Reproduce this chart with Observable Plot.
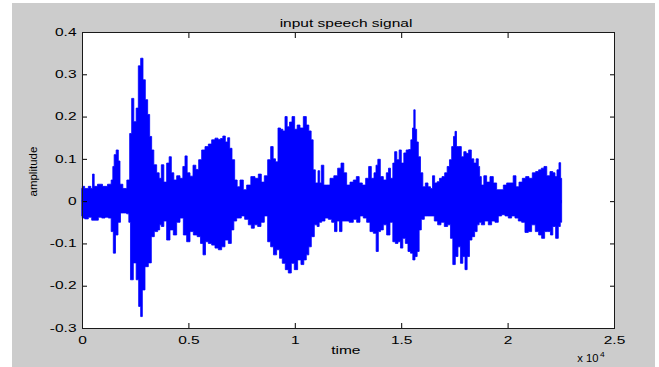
<!DOCTYPE html>
<html>
<head>
<meta charset="utf-8">
<script src="https://cdn.jsdelivr.net/npm/d3@7"></script>
<script src="https://cdn.jsdelivr.net/npm/@observablehq/plot@0.6"></script>
<style>
  html, body { margin: 0; padding: 0; background: #ffffff; }
  #bg { position: absolute; left: 12px; top: 3px; width: 643px; height: 364px; background: #cccccc; }
  #chart { position: absolute; left: 0; top: 0; }
  #chart svg { background: transparent !important; }
</style>
</head>
<body>
<div id="bg"></div>
<div id="chart"></div>
<script>
// ---- Data ----
// upper envelope of the speech waveform: sample index and amplitude
const upperTime = [0,30,220,376,455,533,611,846,1081,1316,1425,1472,1551,1660,1754,1817,2021,2193,2287,2381,2490,2600,2694,2819,2913,3038,3132,3226,3320,3430,3587,
  3665,3791,3900,4056,4135,4260,4370,4527,4684,4793,4887,4997,5154,5278,5419,5545,5701,5858,6015,6171,6328,6453,6563,6673,6798,6892,6986,7111,7237,7346,
  7503,7659,7816,8051,8208,8364,8490,8646,8803,8928,9038,9148,9273,9383,9492,9586,9696,9806,9931,10056,10166,10322,10479,10604,10714,10823,10902,11028,11153,
  11184,11309,11419,11575,11732,11936,12092,12249,12358,12515,12672,12828,12954,13095,13251,13408,13533,13659,13784,13847,13956,14082,14238,14364,14442,14552,14661,14724,14865,
  14943,15068,15178,15287,15413,15492,15569,15616,15695,15757,15851,15962,16071,16197,16321,16432,16509,16634,16743,16855,16980,17106,17213,17325,17420,17495,17560,17636,17762,17888,17998,18106,18232,18358,18467,18576,18669,
  18702,18828,18937,19092,19250,19407,19562,19722,19877,20033,20192,20332,20455,20614,20770,20926,21083,21239,21396,21521,21648,21770,21912,22070,22179,22273,22367,22461,22523,22540];
const upperAmp = [0.03,0.035,0.03,0.035,0.03,0.064,0.035,0.04,0.035,0.04,0.05,0.082,0.11,0.121,0.095,0.04,0.03,0.05,0.16,0.243,0.188,0.22,0.32,0.338,0.287,0.24,0.205,0.153,0.121,0.086,0.067,
  0.054,0.086,0.045,0.09,0.105,0.067,0.05,0.06,0.054,0.082,0.107,0.067,0.059,0.085,0.075,0.098,0.121,0.129,0.135,0.145,0.149,0.146,0.148,0.154,0.14,0.15,0.125,0.098,0.05,0.034,
  0.05,0.027,0.038,0.058,0.054,0.064,0.045,0.06,0.098,0.129,0.1,0.093,0.173,0.17,0.166,0.2,0.176,0.187,0.2,0.17,0.18,0.173,0.2,0.18,0.166,0.145,0.074,0.043,0.072,
  0.043,0.085,0.038,0.038,0.054,0.06,0.078,0.09,0.067,0.038,0.045,0.05,0.058,0.043,0.038,0.054,0.082,0.054,0.067,0.085,0.099,0.058,0.05,0.067,0.078,0.054,0.09,0.117,0.098,
  0.121,0.09,0.114,0.121,0.122,0.145,0.173,0.216,0.17,0.14,0.105,0.067,0.034,0.043,0.034,0.03,0.06,0.043,0.046,0.054,0.058,0.067,0.082,0.098,0.129,0.153,0.165,0.129,0.129,0.105,0.117,0.113,0.121,0.1,0.09,0.1,0.082,
  0.058,0.038,0.06,0.045,0.058,0.043,0.027,0.027,0.038,0.043,0.043,0.06,0.034,0.045,0.054,0.058,0.054,0.067,0.07,0.074,0.078,0.082,0.06,0.07,0.067,0.058,0.074,0.091,0.054,0.054];

// lower envelope of the speech waveform: sample index and amplitude
const lowerTime = [0,30,220,376,533,689,846,1003,1159,1316,1425,1519,1629,1754,1864,2021,2177,2224,2334,2490,2600,2725,2788,2882,3038,3195,3320,3477,3634,
  3665,3791,3900,4056,4213,4370,4527,4684,4840,4997,5154,5310,5514,5623,5748,5858,6015,6171,6328,6485,6641,6798,6955,7080,7190,7346,
  7424,7550,7737,7894,8019,8176,8333,8489,8646,8802,8927,9068,9225,9335,9491,9616,9773,9898,10055,10211,10368,10478,10603,10713,10838,10995,11104,
  11184,11341,11497,11654,11810,11920,12045,12155,12280,12437,12672,12828,12985,13142,13298,13455,13611,13768,13878,13971,14081,14238,14394,14551,14661,14786,14911,
  15021,15131,15256,15381,15491,15601,15695,15804,15883,16008,16164,16321,16478,16634,16791,16947,17104,17261,17370,17480,17605,17730,17840,17950,18044,18153,18263,18388,18514,18623,
  18702,18827,19015,19172,19328,19485,19642,19798,19955,20111,20268,20425,20581,20738,20894,21051,21208,21396,21521,21677,21803,21959,22069,22179,22335,22429,22523,22540];
const lowerAmp = [-0.035,-0.04,-0.042,-0.038,-0.045,-0.045,-0.038,-0.04,-0.038,-0.04,-0.072,-0.123,-0.08,-0.05,-0.028,-0.028,-0.03,-0.05,-0.186,-0.146,-0.186,-0.249,-0.273,-0.21,-0.155,-0.146,-0.084,-0.072,-0.068,
  -0.056,-0.06,-0.047,-0.092,-0.068,-0.08,-0.05,-0.04,-0.08,-0.096,-0.072,-0.08,-0.084,-0.1,-0.127,-0.096,-0.1,-0.104,-0.111,-0.115,-0.108,-0.092,-0.1,-0.068,-0.047,-0.04,
  -0.04,-0.035,-0.043,-0.056,-0.064,-0.056,-0.06,-0.05,-0.035,-0.096,-0.108,-0.127,-0.115,-0.135,-0.147,-0.162,-0.17,-0.147,-0.162,-0.139,-0.15,-0.139,-0.127,-0.108,-0.084,-0.056,-0.06,
  -0.05,-0.047,-0.04,-0.043,-0.05,-0.072,-0.047,-0.072,-0.047,-0.047,-0.05,-0.043,-0.05,-0.035,-0.04,-0.05,-0.072,-0.076,-0.119,-0.072,-0.068,-0.056,-0.08,-0.05,-0.096,-0.1,-0.096,
  -0.111,-0.088,-0.1,-0.119,-0.123,-0.139,-0.131,-0.119,-0.068,-0.043,-0.035,-0.035,-0.035,-0.047,-0.056,-0.05,-0.06,-0.056,-0.088,-0.15,-0.131,-0.108,-0.147,-0.131,-0.162,-0.131,-0.092,-0.084,-0.072,-0.056,
  -0.05,-0.056,-0.047,-0.056,-0.047,-0.05,-0.035,-0.032,-0.035,-0.04,-0.035,-0.04,-0.047,-0.05,-0.074,-0.072,-0.056,-0.072,-0.08,-0.088,-0.072,-0.072,-0.08,-0.06,-0.088,-0.06,-0.05,-0.05];

// axis ticks and texts
const xTicks = [0, 5000, 10000, 15000, 20000, 25000];
const xTickLabels = ["0", "0.5", "1", "1.5", "2", "2.5"];
const yTicks = [-0.3, -0.2, -0.1, 0, 0.1, 0.2, 0.3, 0.4];
const yTickLabels = ["-0.3", "-0.2", "-0.1", "0", "0.1", "0.2", "0.3", "0.4"];
const titleText = "input speech signal";
const xLabelText = "time";
const yLabelText = "amplitude";
const xExponentBase = "x 10";
const xExponent = "4";

const upper = upperTime.map((t, i) => ({t, v: upperAmp[i]}));
const lower = lowerTime.map((t, i) => ({t, v: lowerAmp[i]}));
const signalStart = upperTime[0];
const signalEnd = upperTime[upperTime.length - 1];

const font = "'Liberation Sans', Arial, Helvetica, sans-serif";
const blue = "#0000ff";

const plot = Plot.plot({
  width: 659,
  height: 367,
  marginLeft: 82,
  marginRight: 45,
  marginTop: 32,
  marginBottom: 39,
  style: {fontFamily: font, fontSize: "10px", color: "#000", background: "transparent", overflow: "visible"},
  x: {domain: [0, 25000]},
  y: {domain: [-0.3, 0.4]},
  marks: [
    Plot.frame({fill: "white", stroke: null}),
    Plot.areaY(upper, {x: "t", y: "v", curve: "step", fill: blue, stroke: blue, strokeWidth: 0.8}),
    Plot.areaY(lower, {x: "t", y: "v", curve: "step", fill: blue, stroke: blue, strokeWidth: 0.8}),
    Plot.ruleY([0], {x1: signalStart, x2: signalEnd, stroke: blue, strokeWidth: 3}),
    Plot.axisX(xTicks, {anchor: "bottom", tickSize: -5, tickPadding: 13.5, stroke: "#000",
      tickFormat: (d) => xTickLabels[xTicks.indexOf(d)], fontSize: 10, label: null}),
    Plot.axisX(xTicks, {anchor: "top", tickSize: -5, tickPadding: 0, stroke: "#000",
      tickFormat: () => "", label: null}),
    Plot.axisY(yTicks, {anchor: "left", tickSize: -5, tickPadding: 11, stroke: "#000",
      tickFormat: (d) => yTickLabels[yTicks.indexOf(d)], fontSize: 10, label: null}),
    Plot.axisY(yTicks, {anchor: "right", tickSize: -5, tickPadding: 0, stroke: "#000",
      tickFormat: () => "", label: null}),
    Plot.frame({stroke: "#1a1a1a", strokeWidth: 1}),
    Plot.text([titleText], {frameAnchor: "top", dx: -2.5, dy: -13, fontSize: 10, fill: "#000"}),
    Plot.text([xLabelText], {frameAnchor: "bottom", dx: -2.7, dy: 25, fontSize: 10, fill: "#000"}),
    Plot.text([xExponentBase], {frameAnchor: "bottom-right", textAnchor: "end", dx: -16, dy: 33, fontSize: 10, fill: "#000"}),
    Plot.text([xExponent], {frameAnchor: "bottom-right", textAnchor: "start", dx: -14.5, dy: 28.5, fontSize: 7, fill: "#000"}),
    Plot.text([yLabelText], {frameAnchor: "left", rotate: -90, dx: -49, dy: 16, fontSize: 11.5, fill: "#000"})
  ]
});

document.getElementById("chart").appendChild(plot);

// The reference's text is horizontally widened; reproduce that on the horizontal labels.
plot.querySelectorAll("text").forEach((el) => {
  const s = el.textContent;
  if (!s || s === yLabelText) return;
  const len = el.getComputedTextLength();
  if (!len) return;
  const factor = s === xExponentBase ? 1.12 : (s === xExponent ? 1.2 : 1.55);
  el.setAttribute("textLength", (len * factor).toFixed(2));
  el.setAttribute("lengthAdjust", "spacingAndGlyphs");
});
</script>
</body>
</html>
